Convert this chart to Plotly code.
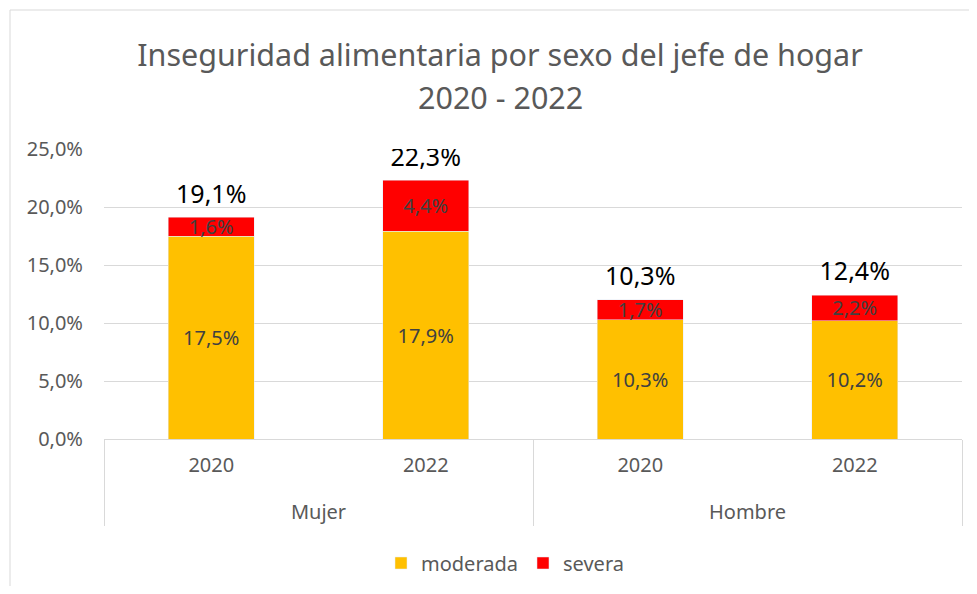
import plotly.graph_objects as go

sexo = ["Mujer", "Mujer", "Hombre", "Hombre"]
anio = ["2020", "2022", "2020", "2022"]
moderada = [17.5, 17.9, 10.3, 10.2]
severa = [1.6, 4.4, 1.7, 2.2]
total_labels = ["19,1%", "22,3%", "10,3%", "12,4%"]
totals = [m + s for m, s in zip(moderada, severa)]

FONT = "Noto Sans"
GREY = "#595959"
# a blank second line under each year pushes the sex labels further down
x = [sexo, [a + "<br> " for a in anio]]

# The page body has an 8px margin; the figure is sized so the page is 977x594.
W, H = 961, 578
L, R, T, B = 96, 7, 141, 147
PW, PH = W - L - R, H - T - B

fig = go.Figure()
fig.add_trace(go.Bar(
    x=x, y=moderada, name="moderada", marker_color="#FFC000",
    texttemplate="%{y:.1f}%", textposition="inside", insidetextanchor="middle",
    textfont=dict(color="#404040", size=20, family=FONT), hoverinfo="skip",
))
fig.add_trace(go.Bar(
    x=x, y=severa, name="severa", marker_color="#FF0000",
    texttemplate="%{y:.1f}%", textposition="inside", insidetextanchor="middle",
    textfont=dict(color="#404040", size=20, family=FONT), hoverinfo="skip",
))
fig.add_trace(go.Scatter(
    x=x, y=totals, mode="markers+text", text=total_labels, textposition="top center",
    marker=dict(size=12, color="rgba(0,0,0,0)"),
    textfont=dict(color="#000000", size=25, family=FONT), showlegend=False,
    hoverinfo="skip",
))

fig.update_layout(
    width=W, height=H,
    barmode="stack", bargap=0.6,
    separators=",.",
    paper_bgcolor="white", plot_bgcolor="white",
    margin=dict(l=L, r=R, t=T, b=B, autoexpand=False),
    font=dict(family=FONT, color=GREY, size=20),
    uniformtext=dict(minsize=20, mode="show"),
    title=dict(
        text="Inseguridad alimentaria por sexo del jefe de hogar",
        x=(500 - 8) / W, xanchor="center", y=1 - (55 - 8) / H, yanchor="middle",
        font=dict(family=FONT, size=30.5, color=GREY),
    ),
    annotations=[dict(
        text="2020 - 2022", xref="paper", yref="paper",
        x=(500 - 8 - L) / PW, xanchor="center",
        y=(T + PH - (97 - 8)) / PH, yanchor="middle",
        showarrow=False, font=dict(family=FONT, size=30.5, color=GREY),
    )],
    legend=dict(
        orientation="h", x=(505 - 8 - L) / PW, xanchor="center",
        y=(431 - 555) / PH, yanchor="middle",
        font=dict(family=FONT, size=20, color=GREY),
        traceorder="normal", itemwidth=30,
    ),
    yaxis=dict(
        range=[0, 25], dtick=5, tickformat=".1f", ticksuffix="%",
        showgrid=True, gridcolor="#D9D9D9", gridwidth=1,
        zeroline=False, showline=False, ticks="",
        tickfont=dict(family=FONT, size=20, color=GREY),
        ticklabelstandoff=20, automargin=False,
    ),
    xaxis=dict(
        showline=True, linecolor="#D9D9D9", linewidth=1,
        showdividers=True, dividercolor="#D9D9D9", dividerwidth=1,
        tickfont=dict(family=FONT, size=20, color=GREY),
        ticks="", ticklabelstandoff=8, automargin=False,
    ),
    shapes=[dict(
        type="rect", xref="paper", yref="paper",
        x0=(2 - L) / PW, x1=(975 - L) / PW,
        y0=-0.7, y1=(T + PH - 2) / PH,
        line=dict(color="#D9D9D9", width=1), fillcolor="rgba(0,0,0,0)",
        layer="below",
    )],
)

fig.write_html("out.html")
